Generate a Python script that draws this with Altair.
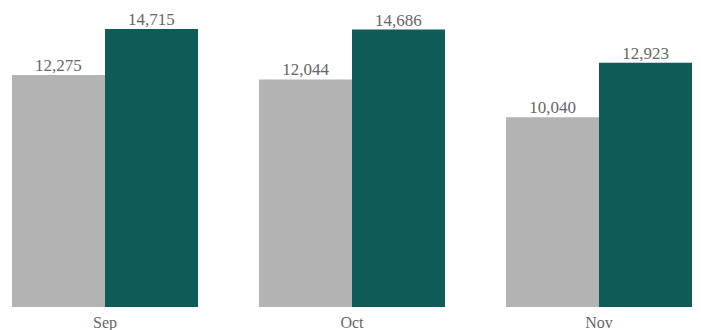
import altair as alt
import pandas as pd

months = ["Sep", "Oct", "Nov"]
series = ["Prior", "Current"]
prior_values = [12275, 12044, 10040]
current_values = [14715, 14686, 12923]
colors = ["#b3b3b3", "#0e5c58"]

rows = []
for m, a, b in zip(months, prior_values, current_values):
    rows.append({"month": m, "series": series[0], "value": a})
    rows.append({"month": m, "series": series[1], "value": b})
df = pd.DataFrame(rows)

FONT = "Times New Roman, Liberation Serif, serif"

x = alt.X("month:N", sort=months,
          scale=alt.Scale(range=[12, 692], paddingInner=0.247, paddingOuter=0),
          axis=alt.Axis(title=None, labelAngle=0, domain=False, ticks=False,
                        labelFont=FONT, labelFontSize=16, labelFontWeight="normal",
                        labelColor="#666666", labelPadding=7))
xo = alt.XOffset("series:N", sort=series, scale=alt.Scale(paddingInner=0, paddingOuter=0))
y = alt.Y("value:Q", scale=alt.Scale(domain=[0, 16250], nice=False, zero=True), axis=None)

base = alt.Chart(df).encode(x=x, xOffset=xo, y=y)

bars = base.mark_bar(size=93).encode(
    color=alt.Color("series:N", sort=series,
                    scale=alt.Scale(domain=series, range=colors), legend=None)
)
labels = base.mark_text(baseline="alphabetic", dy=-4, font=FONT,
                        fontSize=17, color="#666666").encode(
    text=alt.Text("value:Q", format=",")
)

chart = (bars + labels).properties(width=701, height=307, padding=0).configure_view(stroke=None)
chart.save("out.html", embed_options={"renderer": "svg", "actions": False})
